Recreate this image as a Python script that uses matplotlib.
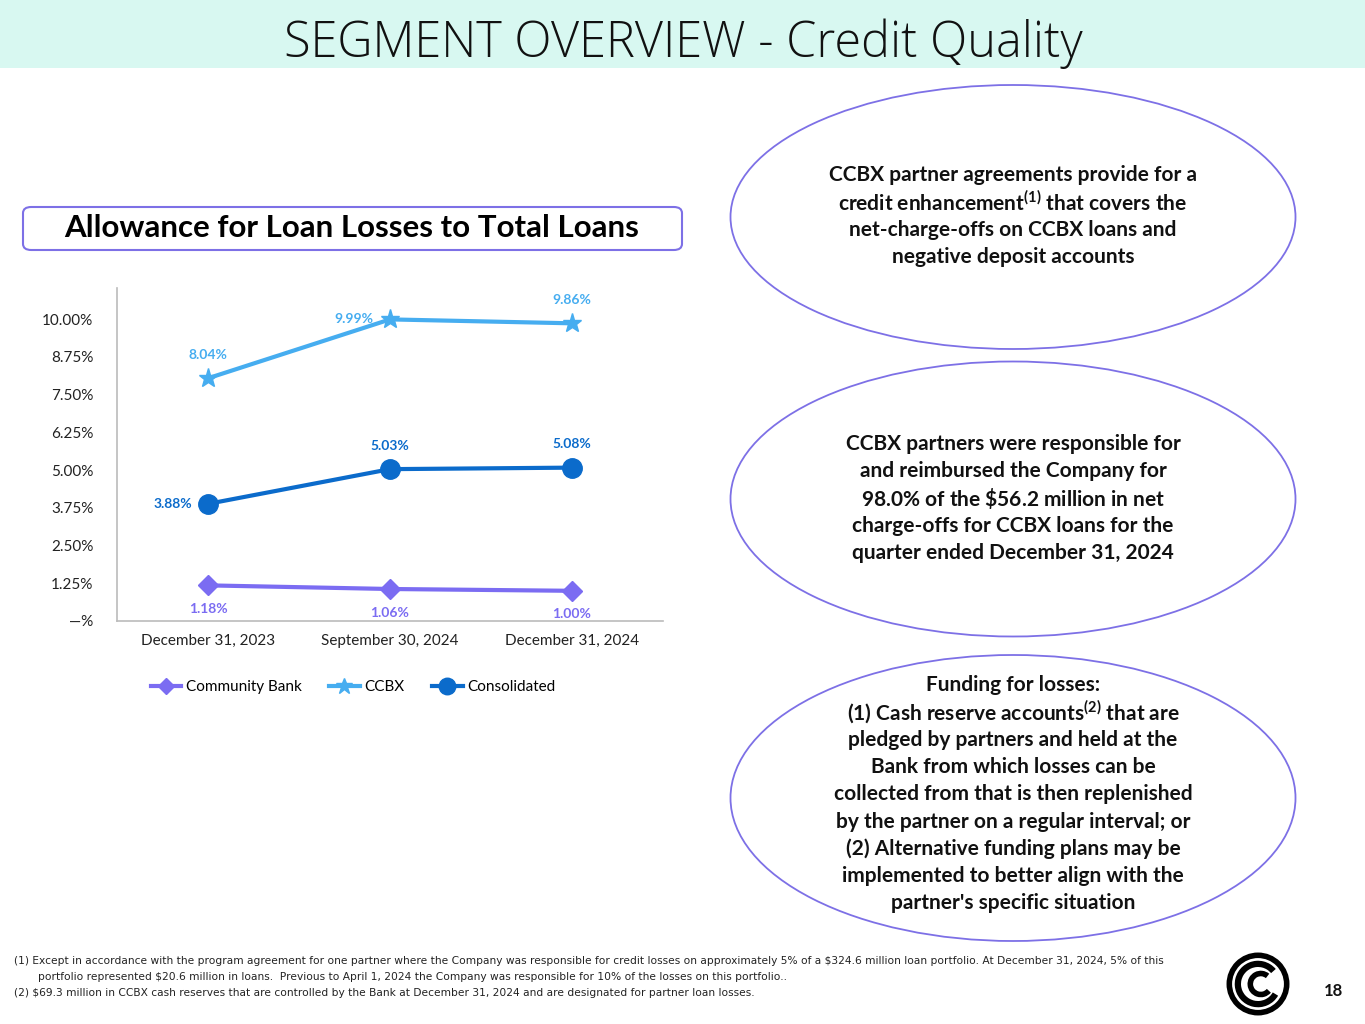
import matplotlib
matplotlib.use('Agg')
import matplotlib.pyplot as plt
from matplotlib.patches import Ellipse, FancyBboxPatch, Rectangle, Arc, Circle

# data
periods = ['December 31, 2023', 'September 30, 2024', 'December 31, 2024']
community_bank = [1.18, 1.06, 1.00]
ccbx = [8.04, 9.99, 9.86]
consolidated = [3.88, 5.03, 5.08]
y_ticks = [0, 1.25, 2.5, 3.75, 5.0, 6.25, 7.5, 8.75, 10.0]
y_labels = ['\u2014%', '1.25%', '2.50%', '3.75%', '5.00%', '6.25%', '7.50%', '8.75%', '10.00%']

c_comm = '#7B6CF2'
c_ccbx = '#46ADF0'
c_cons = '#0B6BCB'
c_edge = '#7D70E6'

plt.rcParams['font.family'] = ['Lato', 'DejaVu Sans']
plt.rcParams['mathtext.fontset'] = 'custom'
plt.rcParams['mathtext.rm'] = 'Lato:bold'
plt.rcParams['mathtext.bf'] = 'Lato:bold'

W, H = 1365, 1024
fig = plt.figure(figsize=(13.65, 10.24), dpi=100)

def fx(x):
    return x / W

def fy(y):
    return 1 - y / H

# header band
fig.patches.append(Rectangle((0, fy(68)), 1, 68 / H, transform=fig.transFigure,
                             facecolor='#D8F8F1', edgecolor='none', zorder=0))
fig.text(fx(683), fy(44), 'SEGMENT OVERVIEW - Credit Quality', ha='center', va='center',
         fontsize=35, color='#111111', family=['Open Sans', 'DejaVu Sans'], fontweight='light')

# chart title box
fig.patches.append(FancyBboxPatch((fx(23), fy(250)), fx(659), 43 / H, transform=fig.transFigure,
                                  boxstyle='round,pad=0,rounding_size=0.006',
                                  facecolor='white', edgecolor=c_edge, linewidth=1.5))
fig.text(fx(352), fy(228), 'Allowance for Loan Losses to Total Loans', ha='center', va='center',
         fontsize=22.5, fontweight='bold', color='black')

# line chart
ax = fig.add_axes([fx(117), fy(621), fx(546), 333 / H])
x = range(len(periods))
ax.plot(x, community_bank, color=c_comm, lw=3, marker='D', ms=10, label='Community Bank')
ax.plot(x, ccbx, color=c_ccbx, lw=3, marker='*', ms=14, label='CCBX')
ax.plot(x, consolidated, color=c_cons, lw=3, marker='o', ms=14, label='Consolidated')
ax.set_xlim(-0.5, 2.5)
ax.set_ylim(0, 11.03)
ax.set_yticks(y_ticks)
ax.set_yticklabels(y_labels)
ax.set_xticks(list(x))
ax.set_xticklabels(periods)
ax.tick_params(length=0, labelsize=11, colors='#222222')
ax.tick_params(axis='x', pad=9)
ax.tick_params(axis='y', pad=17)
for s in ['top', 'right']:
    ax.spines[s].set_visible(False)
for s in ['left', 'bottom']:
    ax.spines[s].set_color('#BBBBBB')
    ax.spines[s].set_linewidth(1.2)

lab_kw = dict(fontsize=10, fontweight='bold', ha='center', va='center')
for i, v in enumerate(community_bank):
    ax.annotate(f'{v:.2f}%', (i, v), xytext=(0, -17), textcoords='offset points', color=c_comm, **lab_kw)
ccbx_off = [(0, 17), (-26, 0), (0, 17)]
for i, v in enumerate(ccbx):
    ax.annotate(f'{v:.2f}%', (i, v), xytext=ccbx_off[i], textcoords='offset points', color=c_ccbx, **lab_kw)
cons_off = [(-25, 0), (0, 17), (0, 17)]
for i, v in enumerate(consolidated):
    ax.annotate(f'{v:.2f}%', (i, v), xytext=cons_off[i], textcoords='offset points', color=c_cons, **lab_kw)

fig.legend(loc='center', bbox_to_anchor=(fx(353), fy(687)), ncol=3, frameon=False,
           fontsize=11, handlelength=2.0, columnspacing=1.8, handletextpad=0.3, markerscale=0.85)

# ellipses with text
ellipses = [
    (217, 264, ['CCBX partner agreements provide for a',
                'credit enhancement$^{(1)}$ that covers the',
                'net-charge-offs on CCBX loans and',
                'negative deposit accounts'], 175),
    (499, 275, ['CCBX partners were responsible for',
                'and reimbursed the Company for',
                '98.0% of the $\\$$56.2 million in net',
                'charge-offs for CCBX loans for the',
                'quarter ended December 31, 2024'], 444),
    (798, 286, ['Funding for losses:',
                '(1) Cash reserve accounts$^{(2)}$ that are',
                'pledged by partners and held at the',
                'Bank from which losses can be',
                'collected from that is then replenished',
                'by the partner on a regular interval; or',
                '(2) Alternative funding plans may be',
                'implemented to better align with the',
                "partner's specific situation"], 685),
]
for cy, h, lines, y0 in ellipses:
    fig.patches.append(Ellipse((fx(1013), fy(cy)), fx(565), h / H, transform=fig.transFigure,
                               facecolor='white', edgecolor=c_edge, linewidth=1.3))
    for k, line in enumerate(lines):
        fig.text(fx(1013), fy(y0 + k * 27.3), line, ha='center', va='center',
                 fontsize=15, fontweight='bold', color='#111111')

# footnotes
fn_kw = dict(fontsize=7.7, color='#222222', va='center', ha='left', family=['DejaVu Sans'])
fig.text(fx(14), fy(961), '(1) Except in accordance with the program agreement for one partner where the Company was '
         'responsible for credit losses on approximately 5% of a $324.6 million loan portfolio. At December 31, 2024, 5% of this',
         **fn_kw)
fig.text(fx(38), fy(977), 'portfolio represented $20.6 million in loans.  Previous to April 1, 2024 the Company was '
         'responsible for 10% of the losses on this portfolio..', **fn_kw)
fig.text(fx(14), fy(993), '(2) $69.3 million in CCBX cash reserves that are controlled by the Bank at December 31, 2024 '
         'and are designated for partner loan losses.', **fn_kw)

# logo
lax = fig.add_axes([fx(1223), fy(1019), fx(70), 70 / H])
lax.set_xlim(-1, 1)
lax.set_ylim(-1, 1)
lax.set_aspect('equal')
lax.axis('off')
lax.add_patch(Circle((0, 0), 0.82, fill=False, lw=4, color='black'))
lax.add_patch(Arc((0, 0), 1.15, 1.15, theta1=40, theta2=330, lw=4.5, color='black'))
lax.add_patch(Arc((0.08, 0), 0.6, 0.6, theta1=50, theta2=320, lw=4, color='black'))

fig.text(fx(1333), fy(991), '18', ha='center', va='center', fontsize=12, fontweight='bold', color='#111111')

fig.savefig('out.png', dpi=100)
